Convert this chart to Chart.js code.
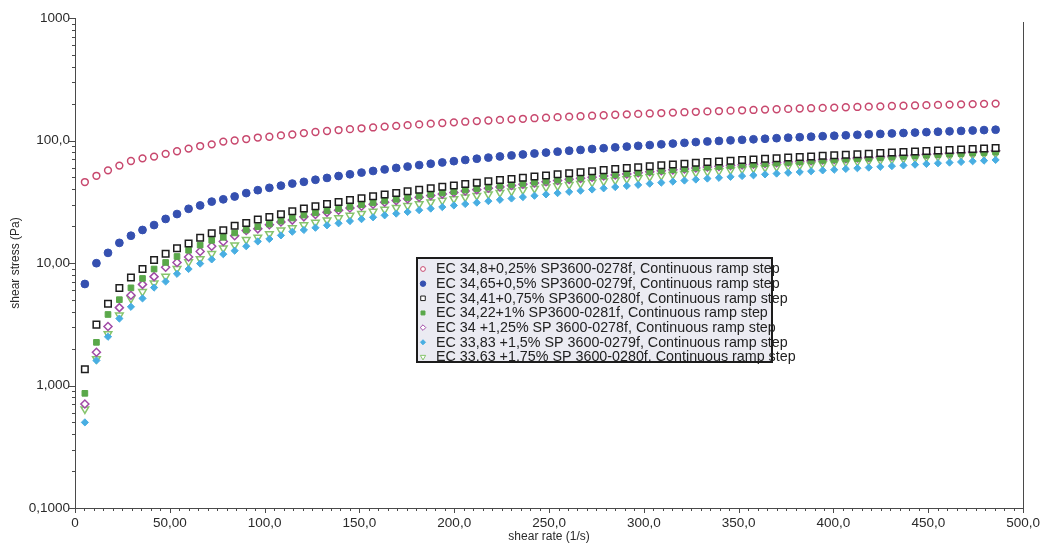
<!DOCTYPE html>
<html>
<head>
<meta charset="utf-8">
<script src="https://cdn.jsdelivr.net/npm/chart.js@4/dist/chart.umd.min.js"></script>
<style>
  html, body { margin: 0; padding: 0; background: #ffffff; }
  #wrap { width: 1047px; height: 545px; position: relative; }
</style>
</head>
<body>
<div id="wrap"><canvas id="c" width="1047" height="545"></canvas></div>
<script>
// Shear rate of each ramp step (1/s)
const shearRate = [5.2, 11.3, 17.4, 23.4, 29.5, 35.6, 41.7, 47.8, 53.8, 59.9, 66.0, 72.1, 78.2, 84.2, 90.3, 96.4, 102.5, 108.6, 114.6, 120.7,
  126.8, 132.9, 139.0, 145.0, 151.1, 157.2, 163.3, 169.4, 175.4, 181.5, 187.6, 193.7, 199.8, 205.8, 211.9, 218.0, 224.1, 230.2, 236.2, 242.3,
  248.4, 254.5, 260.6, 266.6, 272.7, 278.8, 284.9, 291.0, 297.0, 303.1, 309.2, 315.3, 321.4, 327.4, 333.5, 339.6, 345.7, 351.8, 357.8, 363.9,
  370.0, 376.1, 382.2, 388.2, 394.3, 400.4, 406.5, 412.6, 418.6, 424.7, 430.8, 436.9, 443.0, 449.0, 455.1, 461.2, 467.3, 473.4, 479.4, 485.5];

// Shear stress (Pa) for each formulation
const stress025 = [45.8, 51.5, 57.1, 62.4, 68.0, 71.5, 73.9, 77.8, 81.7, 85.9, 90.1, 93.0, 98.0, 100, 102.8, 105.7, 107.3, 110, 111.9, 115,
  117.3, 119.5, 121.7, 123.8, 125.8, 127.8, 129.8, 131.7, 133.5, 135.4, 137.2, 139.0, 140.7, 142.4, 144.0, 145.7, 147.3, 148.9, 150.4, 152.0,
  153.5, 155.0, 156.5, 157.9, 159.4, 160.8, 162.2, 163.6, 164.9, 166.3, 167.6, 168.9, 170.2, 171.5, 172.7, 174.0, 175.2, 176.4, 177.6, 178.8,
  180.0, 181.2, 182.4, 183.5, 184.6, 185.7, 186.8, 187.9, 189.0, 190.1, 191.2, 192.2, 193.2, 194.3, 195.3, 196.3, 197.3, 198.3, 199.3, 200.2];
const stress050 = [6.74, 9.96, 12.1, 14.6, 16.7, 18.6, 20.4, 22.9, 25.1, 27.7, 29.5, 31.7, 33.1, 34.9, 37.2, 39.3, 41.1, 42.8, 44.5, 46.0,
  47.8, 49.5, 51.3, 53.0, 54.7, 56.4, 58.1, 59.7, 61.3, 63.0, 64.6, 66.2, 67.8, 69.4, 71.0, 72.5, 74.1, 75.5, 76.9, 78.3,
  79.7, 81.1, 82.5, 83.8, 85.2, 86.5, 87.9, 89.2, 90.5, 91.8, 93.1, 94.4, 95.7, 97.1, 98.2, 99.2, 100.3, 101.3, 102.3, 103.3,
  104.4, 105.4, 106.4, 107.4, 108.4, 109.3, 110.3, 111.3, 112.3, 113.2, 114.2, 115.1, 116.1, 117.0, 117.9, 118.9, 119.8, 120.7, 121.6, 122.5];
const stress075 = [1.36, 3.14, 4.64, 6.26, 7.62, 8.92, 10.6, 11.9, 13.2, 14.4, 16.1, 17.5, 18.5, 20.1, 21.2, 22.6, 23.7, 25.0, 26.5, 27.9,
  29.1, 30.3, 31.5, 32.7, 33.8, 35.0, 36.2, 37.3, 38.5, 39.6, 40.8, 41.9, 43.0, 44.2, 45.3, 46.4, 47.5, 48.6, 49.7, 50.8,
  51.9, 53.0, 54.1, 55.1, 56.2, 57.3, 58.4, 59.5, 60.5, 61.6, 62.7, 63.7, 64.7, 65.8, 66.7, 67.5, 68.4, 69.2, 70.0, 70.9,
  71.7, 72.5, 73.3, 74.1, 75.0, 75.7, 76.6, 77.4, 78.1, 78.9, 79.7, 80.5, 81.3, 82.1, 82.8, 83.6, 84.4, 85.2, 85.9, 86.7];
const stress100 = [0.863, 2.25, 3.80, 5.02, 6.27, 7.48, 8.93, 10.1, 11.3, 12.7, 14.0, 15.3, 16.2, 17.6, 18.6, 19.8, 20.8, 22.0, 23.3, 24.6,
  25.7, 26.7, 27.8, 28.9, 29.9, 31.0, 32.1, 33.1, 34.2, 35.2, 36.3, 37.3, 38.3, 39.4, 40.5, 41.5, 42.5, 43.5, 44.5, 45.6,
  46.6, 47.6, 48.7, 49.6, 50.6, 51.7, 52.7, 53.8, 54.7, 55.7, 56.8, 57.8, 58.7, 59.8, 60.6, 61.4, 62.3, 63.1, 63.9, 64.8,
  65.5, 66.3, 67.1, 68.0, 68.9, 69.5, 70.4, 71.2, 71.9, 72.7, 73.6, 74.3, 75.1, 75.9, 76.7, 77.5, 78.2, 79.1, 79.8, 80.6];
const stress125 = [0.706, 1.87, 3.03, 4.32, 5.46, 6.69, 7.74, 9.24, 10.1, 11.2, 12.4, 13.7, 15.0, 16.7, 18.4, 19.0, 20.5, 21.6, 22.4, 23.8,
  24.9, 25.9, 27.0, 28.1, 29.1, 30.2, 31.3, 32.3, 33.4, 34.4, 35.5, 36.5, 37.6, 38.7, 39.7, 40.8, 41.8, 42.9, 43.9, 45.0,
  46.0, 47.1, 48.2, 49.1, 50.2, 51.3, 52.4, 53.4, 54.5, 55.6, 56.6, 57.6, 58.6, 59.7, 60.7, 61.5, 62.4, 63.3, 64.1, 65.1,
  65.9, 66.8, 67.7, 68.5, 69.5, 70.2, 71.2, 72.1, 72.8, 73.7, 74.6, 75.4, 76.3, 77.3, 78.0, 78.9, 79.8, 80.7, 81.5, 82.4];
const stress150 = [0.50, 1.60, 2.50, 3.52, 4.39, 5.14, 6.30, 7.06, 8.16, 8.93, 9.89, 10.7, 11.8, 12.6, 13.7, 15.0, 15.7, 16.8, 18.0, 18.6,
  19.4, 20.3, 21.1, 22.0, 22.8, 23.6, 24.5, 25.3, 26.1, 27.0, 27.8, 28.6, 29.5, 30.3, 31.1, 32.0, 32.8, 33.6, 34.5, 35.4,
  36.3, 37.2, 38.1, 38.9, 39.8, 40.7, 41.7, 42.6, 43.4, 44.4, 45.3, 46.2, 47.1, 48.0, 48.9, 49.6, 50.5, 51.3, 52.0, 52.9,
  53.7, 54.5, 55.3, 56.1, 57.0, 57.7, 58.6, 59.4, 60.1, 61.0, 61.8, 62.6, 63.5, 64.4, 65.2, 66.0, 66.8, 67.7, 68.5, 69.4];
const stress175 = [0.642, 1.65, 2.64, 3.74, 5.13, 5.83, 6.83, 7.76, 8.97, 10.2, 10.8, 11.9, 13.2, 14.0, 15.5, 16.2, 17.3, 18.5, 19.3, 20.4,
  21.4, 22.4, 23.3, 24.4, 25.3, 26.3, 27.3, 28.3, 29.3, 30.3, 31.4, 32.4, 33.4, 34.5, 35.5, 36.5, 37.5, 38.5, 39.5, 40.5,
  41.5, 42.5, 43.5, 44.4, 45.5, 46.5, 47.5, 48.6, 49.5, 50.6, 51.6, 52.6, 53.6, 54.6, 55.6, 56.4, 57.4, 58.3, 59.2, 60.1,
  60.9, 61.8, 62.7, 63.7, 64.7, 65.5, 66.5, 67.4, 68.3, 69.1, 70.1, 71.0, 72.0, 72.9, 73.8, 74.7, 75.7, 76.6, 77.5, 78.5];

const seriesLabels = [
  'EC 34,8+0,25% SP3600-0278f, Continuous ramp step',
  'EC 34,65+0,5% SP3600-0279f, Continuous ramp step',
  'EC 34,41+0,75% SP3600-0280f, Continuous ramp step',
  'EC 34,22+1% SP3600-0281f, Continuous ramp step',
  'EC 34 +1,25% SP 3600-0278f, Continuous ramp step',
  'EC 33,83 +1,5% SP 3600-0279f, Continuous ramp step',
  'EC 33,63 +1,75% SP 3600-0280f, Continuous ramp step'
];

const xTickValues = [0, 50, 100, 150, 200, 250, 300, 350, 400, 450, 500];
const xTickLabels = ['0', '50,00', '100,0', '150,0', '200,0', '250,0', '300,0', '350,0', '400,0', '450,0', '500,0'];
const yTickValues = [0.1, 1, 10, 100, 1000];
const yTickLabels = ['0,1000', '1,000', '10,00', '100,0', '1000'];

const FONT = "'Liberation Sans', Arial, Helvetica, sans-serif";

// marker styles per series
const markerStyles = [
  { pointStyle: 'circle',  radius: 3.4, fill: '#ffffff', stroke: '#c8486e', width: 1.5 },
  { pointStyle: 'circle',  radius: 3.9, fill: '#3550b0', stroke: '#3550b0', width: 1 },
  { pointStyle: 'rect',    radius: 4.6, fill: '#ffffff', stroke: '#1e1e1e', width: 1.5 },
  { pointStyle: 'rect',    radius: 4.0, fill: '#5aa84a', stroke: '#5aa84a', width: 1 },
  { pointStyle: 'rectRot', radius: 4.0, fill: '#ffffff', stroke: '#a04aa6', width: 1.5 },
  { pointStyle: 'rectRot', radius: 3.6, fill: '#48aee2', stroke: '#48aee2', width: 1 },
  { pointStyle: 'triangle', radius: 4.4, fill: '#ffffff', stroke: '#86c46c', width: 1.5, rotation: 180 }
];

const seriesValues = [stress025, stress050, stress075, stress100, stress125, stress150, stress175];

const datasets = seriesValues.map((vals, i) => {
  const m = markerStyles[i];
  return {
    label: seriesLabels[i],
    data: vals.map((v, k) => ({ x: shearRate[k], y: v })),
    showLine: false,
    pointStyle: m.pointStyle,
    pointRadius: m.radius,
    pointBackgroundColor: m.fill,
    pointBorderColor: m.stroke,
    pointBorderWidth: m.width,
    pointRotation: m.rotation || 0
  };
});

function labelFor(values, labels, v) {
  for (let i = 0; i < values.length; i++) {
    if (Math.abs(values[i] - v) <= Math.abs(values[i]) * 1e-6) return labels[i];
  }
  return '';
}

// ticks, right frame line and the boxed legend
const frameAndLegend = {
  id: 'frameAndLegend',
  afterDraw(chart) {
    const { ctx, chartArea: a, scales: { x, y } } = chart;
    ctx.save();
    ctx.strokeStyle = '#4a4a4a';
    ctx.lineWidth = 1;
    ctx.beginPath();
    yTickValues.forEach((dec, di) => {
      for (let m = 1; m <= 9; m++) {
        const v = dec * m;
        if (di === yTickValues.length - 1 && m > 1) break;
        const py = Math.round(y.getPixelForValue(v)) + 0.5;
        const len = m === 1 ? 6 : 3;
        ctx.moveTo(a.left - len, py);
        ctx.lineTo(a.left, py);
      }
    });
    for (let v = 0; v <= 500; v += 5) {
      const px = Math.round(x.getPixelForValue(v)) + 0.5;
      const len = v % 50 === 0 ? 5 : 3;
      ctx.moveTo(px, a.bottom);
      ctx.lineTo(px, a.bottom + len);
    }
    ctx.moveTo(Math.round(a.right) + 0.5, a.top + 4);
    ctx.lineTo(Math.round(a.right) + 0.5, a.bottom);
    ctx.stroke();

    // legend
    const box = { x: 417, y: 258, w: 355, h: 104 };
    ctx.fillStyle = '#ebebf2';
    ctx.fillRect(box.x, box.y, box.w, box.h);
    ctx.strokeStyle = '#1c1c1c';
    ctx.lineWidth = 2;
    ctx.strokeRect(box.x, box.y, box.w, box.h);

    ctx.font = '14.3px ' + FONT;
    ctx.textBaseline = 'middle';
    ctx.textAlign = 'left';
    chart.data.datasets.forEach((ds, i) => {
      const cy = box.y + 11 + i * 14.65;
      const m = markerStyles[i];
      ctx.fillStyle = m.fill;
      ctx.strokeStyle = m.stroke;
      ctx.lineWidth = 1;
      Chart.helpers.drawPoint(ctx, {
        pointStyle: m.pointStyle, radius: m.radius * 0.7, borderWidth: 1, rotation: m.rotation || 0
      }, box.x + 6, cy);
      ctx.fillStyle = '#222222';
      ctx.fillText(ds.label, box.x + 19, cy + 0.5);
    });
    ctx.restore();
  }
};

new Chart(document.getElementById('c'), {
  type: 'scatter',
  data: { datasets },
  options: {
    responsive: false,
    animation: false,
    devicePixelRatio: 1,
    layout: { padding: { top: 18, right: 16, bottom: 0, left: 0 }, autoPadding: false },
    plugins: { legend: { display: false }, tooltip: { enabled: false } },
    scales: {
      x: {
        type: 'linear',
        min: 0,
        max: 500,
        afterBuildTicks: s => { s.ticks = xTickValues.map(v => ({ value: v })); },
        afterFit: s => { s.height = 37; },
        grid: { display: false, drawTicks: false },
        border: { display: true, color: '#4a4a4a', width: 1 },
        ticks: {
          autoSkip: false, maxRotation: 0, padding: 7, color: '#2a2a2a',
          font: { family: FONT, size: 13.5 },
          callback: v => labelFor(xTickValues, xTickLabels, v)
        },
        title: {
          display: true, text: 'shear rate (1/s)', color: '#2a2a2a',
          font: { family: FONT, size: 12 }, padding: { top: 0, bottom: 1 }
        }
      },
      y: {
        type: 'logarithmic',
        min: 0.1,
        max: 1000,
        afterBuildTicks: s => { s.ticks = yTickValues.map(v => ({ value: v })); },
        afterFit: s => { s.width = 75; },
        grid: { display: false, drawTicks: false },
        border: { display: true, color: '#4a4a4a', width: 1 },
        ticks: {
          autoSkip: false, padding: 5, color: '#2a2a2a',
          font: { family: FONT, size: 13.5 },
          callback: v => labelFor(yTickValues, yTickLabels, v)
        },
        title: {
          display: true, text: 'shear stress (Pa)', color: '#2a2a2a',
          font: { family: FONT, size: 12 }, padding: { top: 8, bottom: 0 }
        }
      }
    }
  },
  plugins: [frameAndLegend]
});
</script>
</body>
</html>
